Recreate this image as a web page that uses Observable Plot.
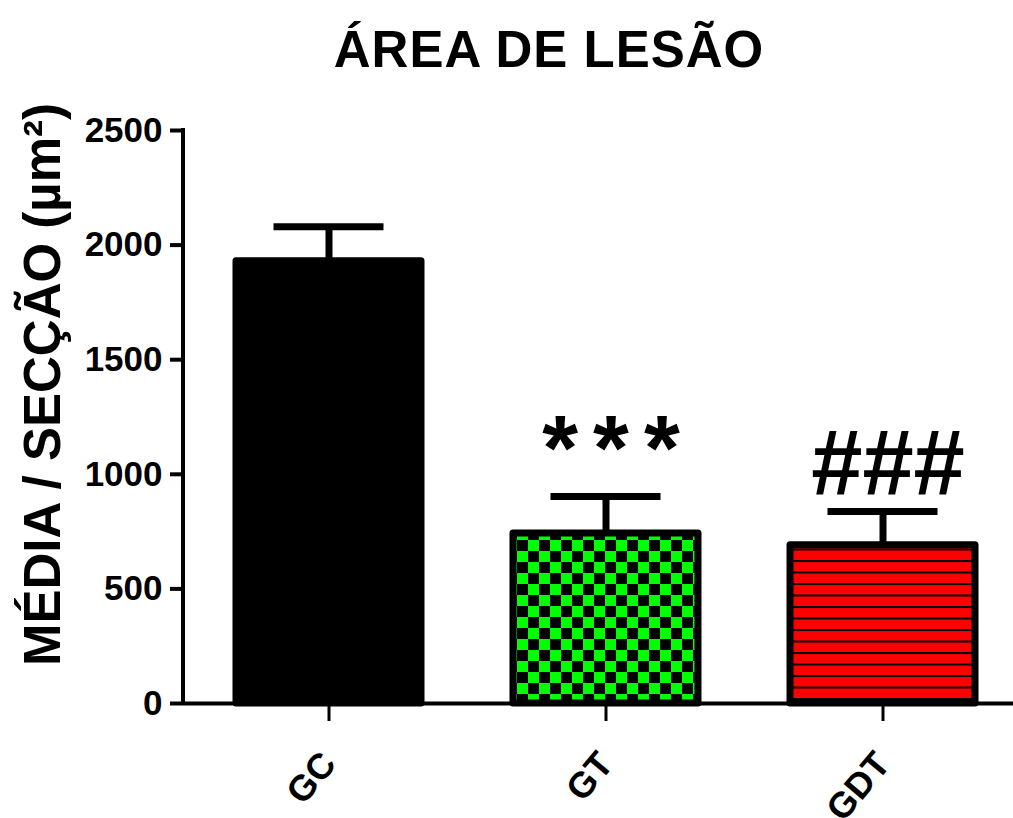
<!DOCTYPE html>
<html><head><meta charset="utf-8">
<script src="https://cdn.jsdelivr.net/npm/d3@7"></script>
<script src="https://cdn.jsdelivr.net/npm/@observablehq/plot@0.6"></script>
<style>
body{margin:0;background:#fff;font-family:"Liberation Sans",Arial,sans-serif;}
#title{height:100px;line-height:100px;font-size:51px;font-weight:bold;position:relative;color:#000;}
#title span{position:absolute;left:549px;transform:translateX(-50%);white-space:nowrap;letter-spacing:1px;}
#chart svg text{font-weight:bold;}
</style></head><body>
<svg width="0" height="0" style="position:absolute">
<defs>
<pattern id="checker" patternUnits="userSpaceOnUse" width="22" height="22">
<rect width="22" height="22" fill="#000"/>
<rect width="11" height="11" fill="#00ff00"/>
<rect x="11" y="11" width="11" height="11" fill="#00ff00"/>
</pattern>
<pattern id="stripes" patternUnits="userSpaceOnUse" width="10" height="11.5">
<rect width="10" height="11.5" fill="#ff0000"/>
<rect width="10" height="2" fill="#000"/>
</pattern>
</defs></svg>
<div id="title"><span>ÁREA DE LESÃO</span></div>
<div id="chart"></div>
<script>
const groups = ["GC", "GT", "GDT"];
const means = [1930, 742, 690];
const sems = [150, 161, 148];
const signif = ["", "***", "###"];
const yTicks = [0, 500, 1000, 1500, 2000, 2500];
const yLabel = "MÉDIA / SECÇÃO (µm²)";

const data = groups.map((g, i) => ({group: g, mean: means[i], sem: sems[i], sig: signif[i]}));

const W = 1013, H = 718, ML = 183, MR = 0, MT = 30, MB = 115;

const yAxisLine = (index, scales, values, dims) => {
  const y = scales.y;
  return d3.create("svg:line")
    .attr("x1", dims.marginLeft).attr("x2", dims.marginLeft)
    .attr("y1", y(0) + 2).attr("y2", y(2500) - 2)
    .attr("stroke", "#000").attr("stroke-width", 4).node();
};

const plot = Plot.plot({
  width: W, height: H,
  marginLeft: ML, marginRight: MR, marginTop: MT, marginBottom: MB,
  style: {fontFamily: '"Liberation Sans", Arial, sans-serif', color: "#000", background: "#fff", overflow: "visible"},
  x: {domain: groups, range: [188.75, 1021.25], paddingInner: 0.333, paddingOuter: 0.1665, label: null},
  y: {domain: [0, 2500], label: null},
  color: {type: "ordinal", domain: groups, range: ["#000", "url(#checker)", "url(#stripes)"]},
  marks: [
    Plot.barY(data, {x: "group", y: "mean", fill: "group", stroke: "#000", strokeWidth: 7, strokeLinejoin: "round"}),
    Plot.ruleX(data, {x: "group", y1: "mean", y2: d => d.mean + d.sem, stroke: "#000", strokeWidth: 7}),
    Plot.tickY(data, {x: "group", y: d => d.mean + d.sem, stroke: "#000", strokeWidth: 7, insetLeft: 37.5, insetRight: 37.5}),
    Plot.ruleY([0], {stroke: "#000", strokeWidth: 4}),
    yAxisLine,
    Plot.axisY({ticks: yTicks, tickSize: 13, tickPadding: 8, tickFormat: "d", fontSize: 35, strokeWidth: 4, label: null}),
    Plot.axisX({tickSize: 18, tickPadding: 36, tickRotate: -50, fontSize: 36, strokeWidth: 3, label: null}),
    Plot.text(data.filter(d => d.sig), {x: "group", y: d => d.mean + d.sem, text: "sig", lineAnchor: "bottom", fontSize: 92, dx: 5, dy: -17}),
    Plot.text([yLabel], {frameAnchor: "left", textAnchor: "middle", rotate: -90, fontSize: 51, dx: -140, dy: -32.5})
  ]
});
document.getElementById("chart").appendChild(plot);
d3.select(plot).selectAll("text").filter(function() { return this.textContent === "***"; })
  .style("letter-spacing", "15px").attr("dx", 7.5);
</script>
</body></html>
